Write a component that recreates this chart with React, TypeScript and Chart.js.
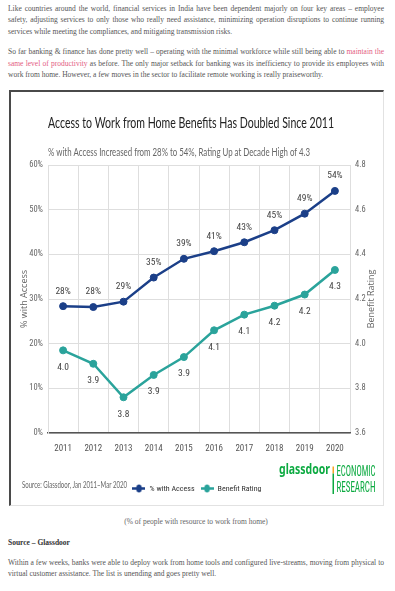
import React, { useEffect, useRef } from "react";
import { Chart, registerables } from "chart.js";

Chart.register(...registerables);

// ---------- data ----------
const years = ["2011", "2012", "2013", "2014", "2015", "2016", "2017", "2018", "2019", "2020"];
const accessPct = [28.4, 28.2, 29.4, 34.8, 39.0, 40.7, 42.7, 45.4, 49.1, 54.2];
const benefitRating = [3.97, 3.91, 3.76, 3.86, 3.94, 4.06, 4.13, 4.17, 4.22, 4.33];
const seriesNames = ["% with Access", "Benefit Rating"];
const pctAxis = { min: 0, max: 60, step: 10 };
const ratingAxis = { min: 3.6, max: 4.8, step: 0.2 };
const leftAxisTitle = "% with Access";
const rightAxisTitle = "Benefit Rating";
const chartTitle = "Access to Work from Home Benefits Has Doubled Since 2011";
const chartSubtitle = "% with Access Increased from 28% to 54%, Rating Up at Decade High of 4.3";
const sourceNote = "Source: Glassdoor, Jan 2011\u2013Mar 2020";

const NAVY = "#1b3f88";
const TEAL = "#2aa39b";
const GREEN = "#0caa41";
const COND = "'Roboto Condensed', 'Liberation Sans', sans-serif";

function fitText(
  ctx: CanvasRenderingContext2D,
  text: string,
  x: number,
  y: number,
  font: string,
  color: string,
  width: number
) {
  ctx.save();
  ctx.font = font;
  ctx.fillStyle = color;
  ctx.textBaseline = "middle";
  ctx.textAlign = "left";
  const w = ctx.measureText(text).width;
  ctx.translate(x, y);
  ctx.scale(width / w, 1);
  ctx.fillText(text, 0, 0);
  ctx.restore();
}

const decorPlugin = {
  id: "decor",
  afterDraw(chart: any) {
    const ctx: CanvasRenderingContext2D = chart.ctx;
    fitText(ctx, chartTitle, 37, 31, "16px Lato", "#222", 286);
    fitText(ctx, chartSubtitle, 37, 61, "10.5px Lato", "#666", 262);
    fitText(ctx, sourceNote, 11, 393, "8.5px Lato", "#666", 105);
    // logo
    fitText(ctx, "glassdoor", 268, 378, "bold 14px 'Noto Sans'", GREEN, 51);
    ctx.save();
    ctx.fillStyle = "#f5a623";
    ctx.fillRect(321.5, 374.5, 1.5, 7);
    ctx.fillStyle = GREEN;
    ctx.fillRect(321.5, 381.5, 1.5, 20.5);
    ctx.restore();
    fitText(ctx, "ECONOMIC", 325.5, 380, "14px " + COND, GREEN, 39);
    fitText(ctx, "RESEARCH", 325.5, 396.5, "14px " + COND, GREEN, 39);
    // right axis title, reading bottom-to-top
    ctx.save();
    ctx.font = "9px 'Open Sans'";
    ctx.fillStyle = "#666";
    ctx.textAlign = "center";
    ctx.textBaseline = "middle";
    ctx.translate(360, (chart.chartArea.top + chart.chartArea.bottom) / 2);
    ctx.rotate(-Math.PI / 2);
    ctx.fillText(rightAxisTitle, 0, 0);
    ctx.restore();
  },
};

const valueLabelPlugin = {
  id: "valueLabels",
  afterDatasetsDraw(chart: any) {
    const ctx: CanvasRenderingContext2D = chart.ctx;
    ctx.save();
    ctx.font = "9.5px " + COND;
    ctx.fillStyle = "#444";
    ctx.textAlign = "center";
    ctx.textBaseline = "middle";
    chart.data.datasets.forEach((ds: any, di: number) => {
      const meta = chart.getDatasetMeta(di);
      meta.data.forEach((pt: any, i: number) => {
        const v = ds.data[i] as number;
        if (di === 0) ctx.fillText(Math.round(v) + "%", pt.x, pt.y - 15);
        else ctx.fillText(v.toFixed(1), pt.x, pt.y + 17);
      });
    });
    ctx.restore();
  },
};

function makeMarker(color: string) {
  const c = document.createElement("canvas");
  c.width = 13;
  c.height = 9;
  const g = c.getContext("2d")!;
  g.strokeStyle = color;
  g.lineWidth = 2.5;
  g.beginPath();
  g.moveTo(0, 4.5);
  g.lineTo(13, 4.5);
  g.stroke();
  g.fillStyle = color;
  g.beginPath();
  g.ellipse(6.5, 4.5, 2.8, 4, 0, 0, Math.PI * 2);
  g.fill();
  return c;
}

function ChartBox() {
  const ref = useRef<HTMLCanvasElement>(null);
  useEffect(() => {
    if (!ref.current) return;
    const markers = [makeMarker(NAVY), makeMarker(TEAL)];
    const chart = new Chart(ref.current, {
      type: "line",
      data: {
        labels: years,
        datasets: [
          {
            label: seriesNames[0],
            data: accessPct,
            borderColor: NAVY,
            backgroundColor: NAVY,
            borderWidth: 2.5,
            pointRadius: 3.5,
            pointBorderWidth: 1,
            yAxisID: "y",
            tension: 0,
          },
          {
            label: seriesNames[1],
            data: benefitRating,
            borderColor: TEAL,
            backgroundColor: TEAL,
            borderWidth: 2.5,
            pointRadius: 3.5,
            pointBorderWidth: 1,
            yAxisID: "y1",
            tension: 0,
          },
        ],
      },
      options: {
        responsive: false,
        animation: false,
        devicePixelRatio: 1,
        events: [],
        layout: { padding: { top: 73, left: 0, right: 0, bottom: 2.5 } },
        scales: {
          x: {
            offset: true,
            grid: {
              offset: true,
              drawTicks: false,
              color: (c: any) => (c.index === years.length ? "rgba(0,0,0,0)" : "#dedede"),
            },
            border: { display: true, color: "#555", width: 1.5 },
            ticks: { padding: 10, font: { family: COND, size: 9 }, color: "#555", maxRotation: 0 },
            afterFit: (s: any) => {
              s.height = 45.5;
            },
          },
          y: {
            position: "left",
            min: pctAxis.min,
            max: pctAxis.max,
            ticks: {
              stepSize: pctAxis.step,
              padding: 5,
              font: { family: COND, size: 8.5 },
              color: "#666",
              callback: (v: any) => v + "%",
            },
            grid: { color: "#dedede", drawTicks: false },
            border: { display: true, color: "#dedede" },
            title: {
              display: true,
              text: leftAxisTitle,
              font: { family: "'Open Sans'", size: 9 },
              color: "#666",
              padding: { top: 8.5, bottom: 0 },
            },
            afterFit: (s: any) => {
              s.width = 37;
            },
          },
          y1: {
            position: "right",
            min: ratingAxis.min,
            max: ratingAxis.max,
            ticks: {
              stepSize: ratingAxis.step,
              padding: 5,
              font: { family: COND, size: 8.5 },
              color: "#666",
              callback: (v: any) => Number(v).toFixed(1),
            },
            grid: { drawOnChartArea: false, drawTicks: false },
            border: { display: false },
            afterFit: (s: any) => {
              s.width = 33;
            },
          },
        },
        plugins: {
          title: { display: false },
          tooltip: { enabled: false },
          legend: {
            display: true,
            position: "bottom",
            align: "center",
            labels: {
              usePointStyle: true,
              pointStyleWidth: 13,
              boxHeight: 8,
              padding: 6,
              color: "#333",
              font: { family: COND, size: 8 },
              generateLabels: (ch: any) => {
                const items = (Chart as any).defaults.plugins.legend.labels.generateLabels(ch);
                items.forEach((it: any, i: number) => {
                  it.pointStyle = markers[i];
                });
                return items;
              },
            },
          },
        },
      },
      plugins: [valueLabelPlugin, decorPlugin],
    } as any);
    return () => chart.destroy();
  }, []);
  return (
    <canvas
      ref={ref}
      width={372}
      height={413}
      style={{ position: "absolute", left: 0, top: 0, width: 372, height: 413 }}
    />
  );
}

const serif = "'Liberation Serif', 'Times New Roman', serif";
const PINK = "#e35d7f";

function Line({ top, justify, center, children, style }: any) {
  const align = justify ? "justify" : center ? "center" : "left";
  return (
    <div
      style={{
        position: "absolute",
        left: 8,
        width: 376,
        top,
        height: 11.3,
        lineHeight: "11.3px",
        fontSize: 7.5,
        fontFamily: serif,
        color: "#555",
        textAlign: align,
        textAlignLast: align,
        ...style,
      }}
    >
      {children}
    </div>
  );
}

export default function App() {
  return (
    <div style={{ position: "absolute", left: 0, top: 0, width: 395, height: 591, overflow: "hidden", background: "#fff" }}>
      <Line top={2.85} justify>
        Like countries around the world, financial services in India have been dependent majorly on four key areas – employee
      </Line>
      <Line top={14.25} justify>
        safety, adjusting services to only those who really need assistance, minimizing operation disruptions to continue running
      </Line>
      <Line top={25.55}>services while meeting the compliances, and mitigating transmission risks.</Line>
      <Line top={46.25} justify>
        So far banking &amp; finance has done pretty well – operating with the minimal workforce while still being able to{" "}
        <span style={{ color: PINK }}>maintain the</span>
      </Line>
      <Line top={57.55} justify>
        <span style={{ color: PINK }}>same level of productivity</span> as before. The only major setback for banking was its inefficiency to provide its employees with
      </Line>
      <Line top={68.85}>
        work from home. However, a few moves in the sector to facilitate remote working is really praiseworthy.
      </Line>

      <div
        style={{
          position: "absolute",
          left: 9,
          top: 90,
          width: 375,
          height: 416,
          boxSizing: "border-box",
          borderTop: "2px solid #4a4a4a",
          borderLeft: "2px solid #4a4a4a",
          borderRight: "1px solid #e2e2e2",
          borderBottom: "1px solid #e2e2e2",
        }}
      >
        <ChartBox />
      </div>

      <Line top={515.55} center style={{ color: "#666" }}>
        (% of people with resource to work from home)
      </Line>
      <Line top={536.55} style={{ fontWeight: "bold", color: "#333" }}>
        Source – Glassdoor
      </Line>
      <Line top={556.55} justify>
        Within a few weeks, banks were able to deploy work from home tools and configured live-streams, moving from physical to
      </Line>
      <Line top={568.05}>virtual customer assistance. The list is unending and goes pretty well.</Line>
    </div>
  );
}
